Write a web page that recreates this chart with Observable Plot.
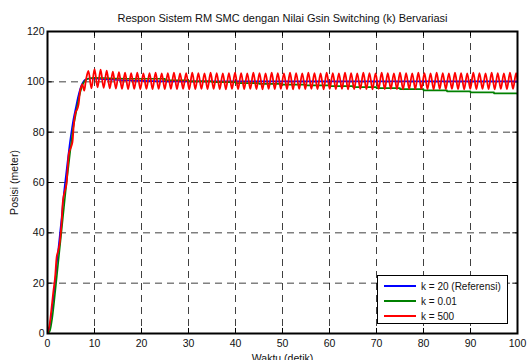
<!DOCTYPE html>
<html>
<head>
<meta charset="utf-8">
<script src="https://cdn.jsdelivr.net/npm/d3@7"></script>
<script src="https://cdn.jsdelivr.net/npm/@observablehq/plot@0.6"></script>
<style>
  html, body { margin: 0; padding: 0; background: #fff; }
  #wrap { position: relative; width: 529px; height: 360px; overflow: hidden; font-family: "Liberation Sans", Arial, sans-serif; }
  #legend { position: absolute; left: 377px; top: 275px; width: 129px; height: 47px; border: 1px solid #000; background: #fff; font-size: 10px; color: #111; }
  .row { position: absolute; left: 0; height: 14px; display: flex; align-items: center; }
  .sw { width: 32px; height: 2px; margin-left: 6px; margin-right: 5px; }
</style>
</head>
<body>
<div id="wrap"></div>
<script>
const titleText = "Respon Sistem RM SMC dengan Nilai Gsin Switching (k) Bervariasi";
const xLabel = "Waktu (detik)";
const yLabel = "Posisi (meter)";
const xTicks = [0, 10, 20, 30, 40, 50, 60, 70, 80, 90, 100];
const yTicks = [0, 20, 40, 60, 80, 100, 120];
const seriesNames = ["k = 20 (Referensi)", "k = 0.01", "k = 500"];
const seriesColors = ["#0000ff", "#008000", "#ff0000"];

// k = 20 (Referensi)
const blueT = [0, 0.3, 1, 1.5, 2, 2.5, 3, 3.5, 4, 4.5, 5, 5.5, 6, 6.5, 7, 7.5, 8, 9, 10, 12, 15, 20, 30, 50, 100];
const blueY = [0, 1, 10, 18, 28, 37, 46, 56, 64, 72, 79, 85, 89.5, 94, 97.5, 99.7, 100.8, 101.3, 101.3, 101, 100.7, 100.4, 100.2, 100.2, 100.2];

// k = 0.01
const greenT = [0, 0.5, 1, 1.5, 2, 2.5, 3, 3.5, 4, 4.5, 5, 5.5, 6, 6.5, 7, 7.5, 8, 9, 10, 12, 15, 20];
const greenY = [0, 1, 6, 14, 23, 32, 41, 50, 59, 67, 75, 82, 87, 92, 96, 99, 100.5, 101.4, 101.6, 101.5, 101.3, 101.2];
const greenStepT = [20, 25, 30, 35, 40, 45, 50, 55, 60, 65, 70, 75, 80, 85, 90, 95, 100];
const greenStepY = [101.2, 100.6, 100.2, 99.9, 99.5, 99.2, 98.9, 98.6, 98.3, 97.9, 97.5, 97.1, 96.6, 96.2, 95.8, 95.4, 95.2];

// k = 500
const redRiseT = [0, 0.4, 0.8, 1.2, 1.6, 2.0, 2.3, 2.6, 3.0, 3.3, 3.6, 4.0, 4.3, 4.6, 5.0, 5.3, 5.6, 6.0, 6.3, 6.6, 7.0, 7.4, 7.8, 8.2];
const redRiseY = [0, 3, 9, 16, 22, 31, 33, 36, 44, 53, 56, 59, 66, 72, 74, 76, 83, 88, 89, 91, 97, 99, 96.5, 101];
const redOscStart = 8.7;   // s
const redOscStep = 0.65;   // s between successive peaks / troughs
const redOscY = [
  104.3, 97.4, 105.0, 97.8, 104.8, 97.6, 104.4, 97.4, 104.0, 97.3,
  103.8, 97.2, 103.6, 97.1, 103.5, 97.2, 103.6, 97.1, 103.4, 97.2,
  103.5, 97.1, 103.6, 97.2, 103.4, 97.1, 103.5, 97.2, 103.6, 97.1,
  103.4, 97.2, 103.5, 97.0, 103.6, 97.1, 103.5, 97.2, 103.4, 97.1,
  103.6, 97.2, 103.5, 97.1, 103.4, 97.0, 103.5, 97.2, 103.6, 97.1,
  103.5, 97.1, 103.4, 97.2, 103.6, 97.1, 103.5, 97.0, 103.4, 97.2,
  103.6, 97.1, 103.5, 97.2, 103.4, 97.1, 103.6, 97.0, 103.5, 97.2,
  103.4, 97.1, 103.6, 97.2, 103.5, 97.1, 103.4, 97.0, 103.6, 97.2,
  103.5, 97.1, 103.4, 97.2, 103.6, 97.0, 103.5, 97.1, 103.4, 97.2,
  103.6, 97.1, 103.5, 97.0, 103.4, 97.2, 103.6, 97.1, 103.5, 97.2,
  103.4, 97.1, 103.6, 97.0, 103.5, 97.2, 103.4, 97.1, 103.6, 97.2,
  103.5, 97.1, 103.4, 97.0, 103.6, 97.2, 103.5, 97.1, 103.4, 97.2,
  103.6, 97.1, 103.5, 97.0, 103.4, 97.2, 103.6, 97.1, 103.5, 97.2,
  103.4, 97.1, 103.6, 97.0, 103.5, 97.2, 103.4, 97.1, 103.6, 97.2,
  103.5, 97.1, 103.4, 97.0
];

const blue = blueT.map((t, i) => ({t, y: blueY[i]}));
const greenRise = greenT.map((t, i) => ({t, y: greenY[i]}));
const greenStep = greenStepT.map((t, i) => ({t, y: greenStepY[i]}));
const red = redRiseT.map((t, i) => ({t, y: redRiseY[i]}))
  .concat(redOscY.map((y, i) => ({t: redOscStart + redOscStep * i, y})));

const font = "'Liberation Sans', Arial, sans-serif";
const gridStyle = {stroke: "#000", strokeOpacity: 0.75, strokeWidth: 1, strokeDasharray: "7,5"};

const chart = Plot.plot({
  width: 529,
  height: 360,
  marginLeft: 47,
  marginRight: 12,
  marginTop: 31,
  marginBottom: 27,
  style: {fontFamily: font, fontSize: "10px", color: "#111", background: "#fff", overflow: "visible"},
  x: {domain: [0, 100]},
  y: {domain: [0, 120]},
  marks: [
    Plot.gridX(xTicks.filter(d => d > 0 && d < 100), gridStyle),
    Plot.gridY(yTicks.filter(d => d > 0 && d < 120), gridStyle),
    Plot.ruleX(xTicks, {x: d => d, y1: 0, y2: 2, stroke: "#000"}),
    Plot.ruleX(xTicks, {x: d => d, y1: 120, y2: 118, stroke: "#000"}),
    Plot.ruleY(yTicks, {y: d => d, x1: 0, x2: 1, stroke: "#000"}),
    Plot.ruleY(yTicks, {y: d => d, x1: 100, x2: 99, stroke: "#000"}),
    Plot.line(blue, {x: "t", y: "y", stroke: seriesColors[0], strokeWidth: 1.6, curve: "monotone-x", clip: true}),
    Plot.line(greenRise, {x: "t", y: "y", stroke: seriesColors[1], strokeWidth: 1.6, curve: "monotone-x", clip: true}),
    Plot.line(greenStep, {x: "t", y: "y", stroke: seriesColors[1], strokeWidth: 1.6, curve: "step-after", clip: true}),
    Plot.line(red, {x: "t", y: "y", stroke: seriesColors[2], strokeWidth: 1.8, curve: "catmull-rom", clip: true}),
    Plot.frame({stroke: "#000", strokeWidth: 2}),
    Plot.axisX(xTicks, {tickSize: 0, tickPadding: 6, fontSize: 10.5, label: xLabel, labelAnchor: "center", labelArrow: "none", labelOffset: 28}),
    Plot.axisY(yTicks, {tickSize: 0, tickPadding: 3, fontSize: 10.5, label: yLabel, labelAnchor: "center", labelArrow: "none", labelOffset: 37}),
    Plot.text([titleText], {frameAnchor: "top", lineAnchor: "middle", dy: -13, fontSize: 11, fill: "#111"})
  ]
});

const wrap = document.getElementById("wrap");
wrap.appendChild(chart);

const legend = document.createElement("div");
legend.id = "legend";
const rowTops = [3, 18, 33];
seriesNames.forEach((name, i) => {
  const row = document.createElement("div");
  row.className = "row";
  row.style.top = rowTops[i] + "px";
  const sw = document.createElement("div");
  sw.className = "sw";
  sw.style.background = seriesColors[i];
  const lab = document.createElement("span");
  lab.textContent = name;
  row.appendChild(sw);
  row.appendChild(lab);
  legend.appendChild(row);
});
wrap.appendChild(legend);
</script>
</body>
</html>
